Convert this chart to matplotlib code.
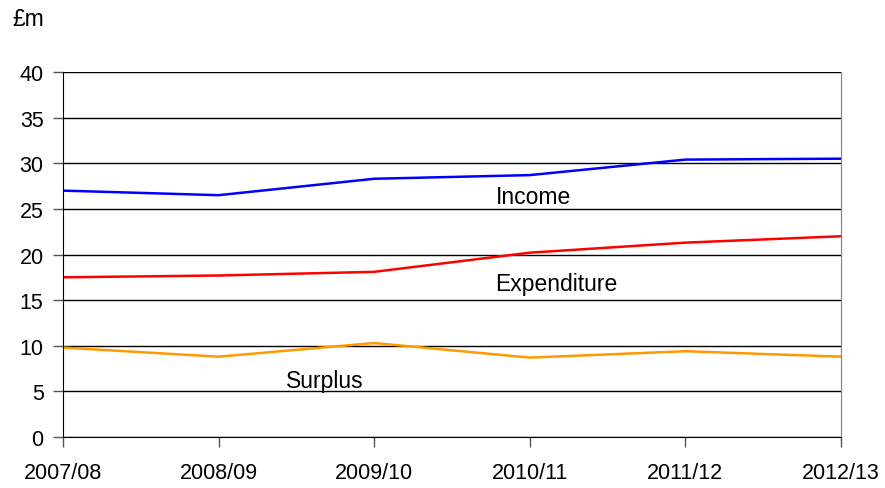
import numpy as np
import matplotlib.pyplot as plt

plt.rcParams['font.family'] = ['Liberation Sans', 'DejaVu Sans']

years = ['2007/08', '2008/09', '2009/10', '2010/11', '2011/12', '2012/13']
income = [27.0, 26.5, 28.3, 28.7, 30.4, 30.5]
expenditure = [17.5, 17.7, 18.1, 20.2, 21.3, 22.0]
surplus = [9.8, 8.8, 10.3, 8.7, 9.4, 8.8]

fig = plt.figure(figsize=(8.85, 4.89), dpi=100)
ax = fig.add_axes([63/885, 1 - 438/489, (841 - 63)/885, (438 - 73)/489])

x = np.arange(len(years))
ax.plot(x, income, color='#0000ff', lw=1.8)
ax.plot(x, expenditure, color='#ff0000', lw=1.8)
ax.plot(x, surplus, color='#ff9900', lw=1.8)

ax.set_xlim(0, len(years) - 1)
ax.set_ylim(0, 40)
ax.set_yticks(range(0, 41, 5))
ax.set_xticks(x)
ax.set_xticklabels(years)
ax.yaxis.grid(True, color='black', lw=1)
ax.set_axisbelow(True)

ax.spines['top'].set_visible(False)
ax.spines['right'].set_color('#808080')
ax.spines['left'].set_color('black')
ax.spines['bottom'].set_color('black')
ax.tick_params(axis='both', labelsize=15.5, length=7, color='#555555', width=1)
ax.tick_params(axis='x', pad=11)
ax.tick_params(axis='y', pad=7)

ax.text(2.78, 26.4, 'Income', fontsize=16.5, va='center', ha='left')
ax.text(2.78, 16.8, 'Expenditure', fontsize=16.5, va='center', ha='left')
ax.text(1.43, 6.2, 'Surplus', fontsize=16.5, va='center', ha='left')
fig.text(12/885, 1 - 20/489, '£m', fontsize=16.5, va='center', ha='left')

fig.savefig('out.png', dpi=100)
